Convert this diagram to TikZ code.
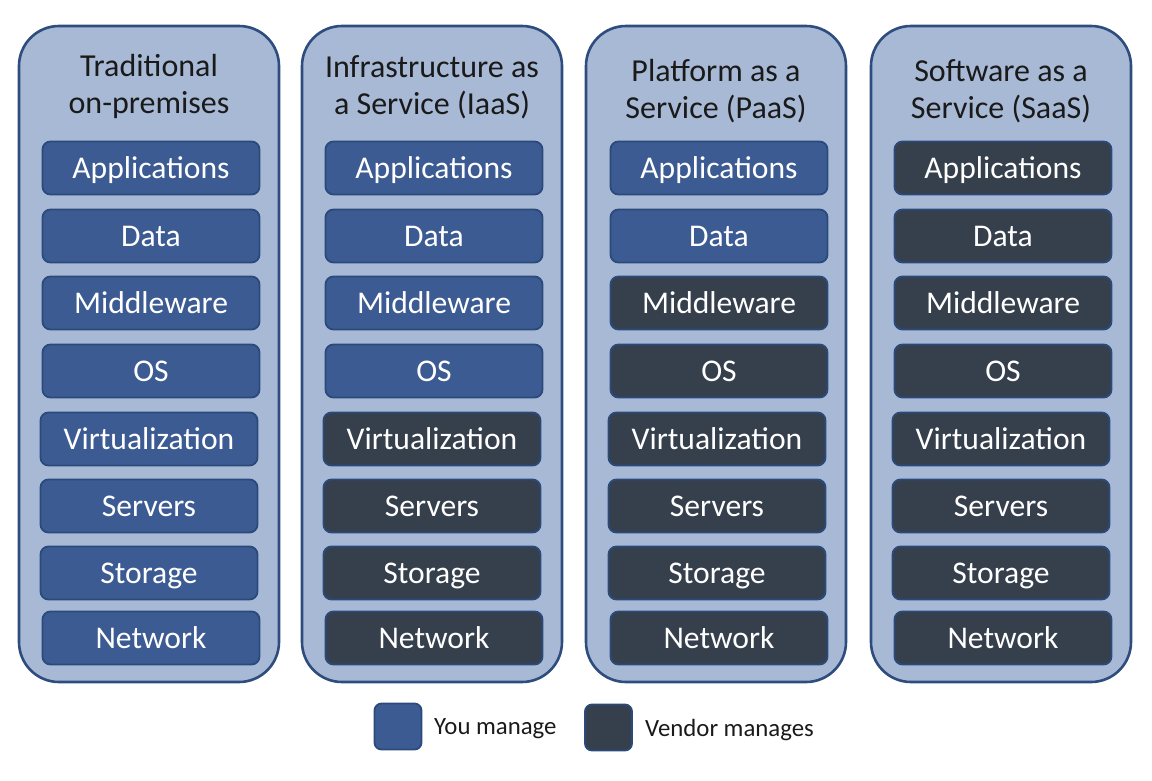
\documentclass[tikz,border=0pt]{standalone}
\usepackage{fontspec}
\setmainfont{Carlito}
\definecolor{outerfill}{HTML}{A7B9D5}
\definecolor{outerline}{HTML}{2E4D7E}
\definecolor{youblue}{HTML}{3D5B93}
\definecolor{vendor}{HTML}{363F4C}
\definecolor{boxline}{HTML}{2B4A7C}
\definecolor{titletext}{HTML}{1A1A1A}
\begin{document}
\begin{tikzpicture}[x=1pt,y=-1pt,
  outer/.style={draw=outerline, line width=2.6pt, fill=outerfill, rounded corners=40pt,
    minimum width=260pt, minimum height=656pt, inner sep=0pt},
  layer/.style={draw=boxline, line width=1.8pt, rounded corners=8pt,
    minimum width=217pt, minimum height=53pt, inner sep=0pt, text=white,
    text height=24pt, text depth=3pt,
    font=\fontsize{31.6}{37}\selectfont},
  mine/.style={layer, fill=youblue},
  theirs/.style={layer, fill=vendor},
  title/.style={align=center, text=titletext, font=\fontsize{32}{37}\selectfont, inner sep=0pt},
  legbox/.style={draw=boxline, line width=1.8pt, rounded corners=7pt,
    minimum width=47pt, minimum height=46pt, inner sep=0pt},
  legtext/.style={anchor=west, text=titletext, font=\fontsize{24.8}{29}\selectfont, inner sep=0pt}]
\useasboundingbox (0,0) rectangle (1152,780);

% columns: index / outer center x / box center x / number of "you manage" rows / title / title y
\foreach \c/\ox/\bx/\nb/\tt/\ty in {
  1/149/151/8/{Traditional\\on-premises}/86,
  2/432/434/4/{Infrastructure as\\a Service (IaaS)}/87.5,
  3/716/719/2/{Platform as a\\Service (PaaS)}/91.5,
  4/1001/1003/0/{Software as a\\Service (SaaS)}/91.5}{
  \node[outer] (col\c) at (\ox,354) {};
  \node[title] (title\c) at (\ox,\ty) {\tt};
  \foreach \r/\y/\dx/\lab in {
    1/168/0/Applications, 2/236/0/Data, 3/303/0/Middleware, 4/371/0/OS,
    5/439/-2/Virtualization, 6/506/-2/Servers, 7/573/-2/Storage, 8/638/0/Network}{
    \ifnum\r>\nb
      \node[theirs] (c\c r\r) at (\bx+\dx,\y) {\lab};
    \else
      \node[mine] (c\c r\r) at (\bx+\dx,\y) {\lab};
    \fi
  }
}

% legend
\node[legbox, fill=youblue] (legyou) at (398,726.5) {};
\node[legtext] (legyoutext) at (434,729) {You manage};
\node[legbox, fill=vendor] (legvendor) at (608.5,727.5) {};
\node[legtext] (legvendortext) at (645,730) {Vendor manages};
\end{tikzpicture}
\end{document}
